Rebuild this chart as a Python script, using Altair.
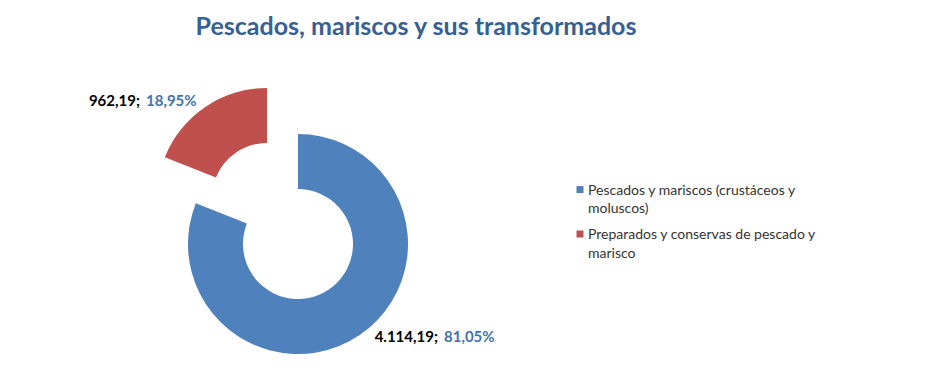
import altair as alt
import pandas as pd

# ---- data ----
categories = [
    "Pescados y mariscos (crustáceos y moluscos)",
    "Preparados y conservas de pescado y marisco",
]
legend_labels = [
    "Pescados y mariscos (crustáceos y\nmoluscos)",
    "Preparados y conservas de pescado y\nmarisco",
]
values = [4114.19, 962.19]
value_labels = ["4.114,19;", "962,19;"]
percent_labels = ["81,05%", "18,95%"]
colors = ["#4F81BD", "#C0504D"]
title_text = "Pescados, mariscos y sus transformados"

total = sum(values)
starts, ends, acc = [], [], 0.0
for v in values:
    starts.append(acc)
    acc += v
    ends.append(acc)

df = pd.DataFrame({
    "idx": list(range(len(categories))),
    "category": categories,
    "legend": legend_labels,
    "value": values,
    "vlabel": value_labels,
    "plabel": percent_labels,
    "start": starts,
    "end": ends,
})

FONT = "Lato"
W, H = 924, 358
# layout (plot-area pixels)
centers = [(290, 236), (259, 190)]  # second slice is exploded
label_pos = [(430, 329), (132, 93)]
INNER, OUTER = 55, 110

theta_scale = alt.Scale(domain=[0, total], range=[0, 6.283185307179586])
color_scale = alt.Scale(domain=categories, range=colors)

base = alt.Chart(df)
layers = []
for i, (cx, cy) in enumerate(centers):
    layers.append(
        base.transform_filter(alt.datum.idx == i)
        .mark_arc(innerRadius=INNER, outerRadius=OUTER)
        .encode(
            theta=alt.Theta("start:Q", scale=theta_scale),
            theta2="end:Q",
            color=alt.Color("category:N", scale=color_scale, legend=None),
            x=alt.value(cx),
            y=alt.value(cy),
        )
    )

for i, (lx, ly) in enumerate(label_pos):
    sub = base.transform_filter(alt.datum.idx == i)
    layers.append(
        sub.mark_text(align="right", baseline="middle", font=FONT, fontSize=15,
                      fontWeight="bold", color="#000000")
        .encode(text="vlabel:N", x=alt.value(lx), y=alt.value(ly))
    )
    layers.append(
        sub.mark_text(align="left", baseline="middle", font=FONT, fontSize=15,
                      fontWeight="bold", color="#4472A8", dx=6)
        .encode(text="plabel:N", x=alt.value(lx), y=alt.value(ly))
    )

# legend
leg_y = alt.Y("category:N",
              scale=alt.Scale(type="point", domain=categories, range=[182.6, 227], padding=0),
              axis=None)
layers.append(
    base.mark_square(size=49, opacity=1, yOffset=-1)
    .encode(x=alt.value(572), y=leg_y,
            color=alt.Color("category:N", scale=color_scale, legend=None))
)
layers.append(
    base.mark_text(align="left", baseline="middle", font=FONT, fontSize=14,
                   lineBreak="\n", lineHeight=18.5, color="#333333")
    .encode(x=alt.value(580), y=leg_y, text="legend:N")
)

# title
title_df = pd.DataFrame({"t": [title_text]})
layers.append(
    alt.Chart(title_df).mark_text(align="center", baseline="middle", font=FONT,
                                  fontSize=25, fontWeight="bold", color="#376092")
    .encode(text="t:N", x=alt.value(408), y=alt.value(19))
)

chart = alt.layer(*layers).properties(
    width=W, height=H, padding=0,
    autosize=alt.AutoSizeParams(type="none"),
).configure_view(stroke=None)

chart.save("out.html", embed_options={"renderer": "svg", "actions": False})
